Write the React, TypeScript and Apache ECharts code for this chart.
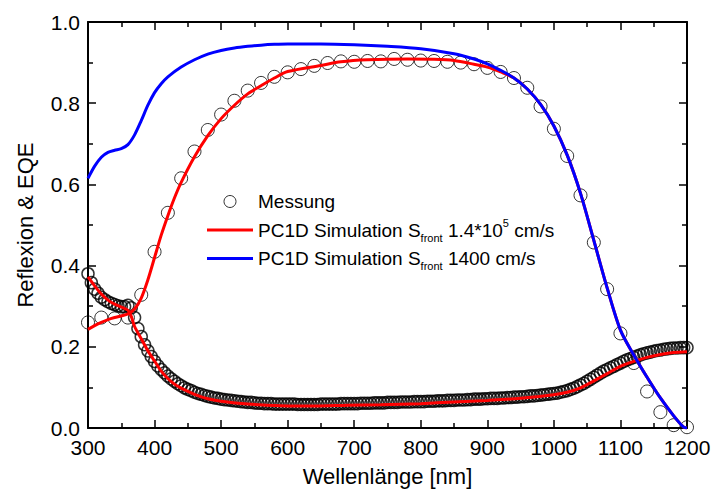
import React, { useEffect, useRef } from "react";
import * as echarts from "echarts";

// EQE measurement (circles, every 20 nm)
const eqeWl = [300, 320, 340, 360, 380, 400, 420, 440, 460, 480, 500, 520, 540, 560, 580, 600, 620, 640, 660, 680, 700, 720, 740, 760, 780, 800, 820, 840, 860, 880, 900, 920, 940, 960, 980, 1000, 1020, 1040, 1060, 1080, 1100, 1120, 1140, 1160, 1180, 1200];
const eqeMeas = [0.26, 0.272, 0.27, 0.272, 0.328, 0.434, 0.53, 0.615, 0.681, 0.734, 0.772, 0.806, 0.831, 0.85, 0.865, 0.876, 0.884, 0.892, 0.899, 0.903, 0.902, 0.904, 0.903, 0.909, 0.907, 0.905, 0.904, 0.902, 0.9, 0.896, 0.887, 0.877, 0.862, 0.838, 0.792, 0.737, 0.67, 0.573, 0.457, 0.342, 0.233, 0.16, 0.09, 0.039, 0.007, 0.002];

// Reflection measurement (dense circles, every 5 nm)
const reflWl = [
  300, 305, 310, 315, 320, 325, 330, 335, 340, 345, 350, 355, 360, 365, 370, 375, 380, 385, 390, 395,
  400, 405, 410, 415, 420, 425, 430, 435, 440, 445, 450, 455, 460, 465, 470, 475, 480, 485, 490, 495,
  500, 505, 510, 515, 520, 525, 530, 535, 540, 545, 550, 555, 560, 565, 570, 575, 580, 585, 590, 595,
  600, 605, 610, 615, 620, 625, 630, 635, 640, 645, 650, 655, 660, 665, 670, 675, 680, 685, 690, 695,
  700, 705, 710, 715, 720, 725, 730, 735, 740, 745, 750, 755, 760, 765, 770, 775, 780, 785, 790, 795,
  800, 805, 810, 815, 820, 825, 830, 835, 840, 845, 850, 855, 860, 865, 870, 875, 880, 885, 890, 895,
  900, 905, 910, 915, 920, 925, 930, 935, 940, 945, 950, 955, 960, 965, 970, 975, 980, 985, 990, 995,
  1000, 1005, 1010, 1015, 1020, 1025, 1030, 1035, 1040, 1045, 1050, 1055, 1060, 1065, 1070, 1075, 1080, 1085, 1090, 1095,
  1100, 1105, 1110, 1115, 1120, 1125, 1130, 1135, 1140, 1145, 1150, 1155, 1160, 1165, 1170, 1175, 1180, 1185, 1190, 1195,
  1200,
];
const reflMeas = [
  0.380, 0.358, 0.342, 0.332, 0.322, 0.316, 0.311, 0.307, 0.304, 0.301, 0.299, 0.299, 0.302, 0.296, 0.272, 0.245, 0.225, 0.205, 0.190, 0.176,
  0.164, 0.153, 0.144, 0.136, 0.128, 0.121, 0.115, 0.109, 0.104, 0.099, 0.095, 0.092, 0.088, 0.085, 0.083, 0.080, 0.078, 0.076, 0.074, 0.073,
  0.071, 0.070, 0.069, 0.068, 0.067, 0.066, 0.065, 0.064, 0.063, 0.063, 0.062, 0.061, 0.061, 0.060, 0.060, 0.060, 0.059, 0.059, 0.059, 0.059,
  0.059, 0.059, 0.059, 0.058, 0.058, 0.058, 0.058, 0.058, 0.058, 0.058, 0.059, 0.059, 0.059, 0.059, 0.059, 0.059, 0.060, 0.060, 0.060, 0.060,
  0.060, 0.060, 0.061, 0.061, 0.061, 0.061, 0.062, 0.062, 0.062, 0.062, 0.063, 0.063, 0.063, 0.063, 0.064, 0.064, 0.064, 0.064, 0.065, 0.065,
  0.065, 0.065, 0.066, 0.066, 0.066, 0.067, 0.067, 0.067, 0.068, 0.068, 0.068, 0.069, 0.069, 0.069, 0.070, 0.070, 0.071, 0.071, 0.071, 0.072,
  0.072, 0.073, 0.073, 0.073, 0.074, 0.074, 0.075, 0.075, 0.076, 0.076, 0.077, 0.077, 0.078, 0.079, 0.079, 0.080, 0.081, 0.082, 0.083, 0.084,
  0.085, 0.086, 0.088, 0.090, 0.092, 0.095, 0.098, 0.102, 0.106, 0.110, 0.115, 0.120, 0.125, 0.130, 0.135, 0.140, 0.144, 0.148, 0.152, 0.156,
  0.160, 0.164, 0.168, 0.171, 0.174, 0.177, 0.180, 0.183, 0.185, 0.187, 0.189, 0.191, 0.192, 0.194, 0.195, 0.196, 0.197, 0.197, 0.198, 0.198,
  0.198,
];

// PC1D simulation, S_front = 1.4e5 cm/s (red): reflection
const redRWl = [300, 310, 320, 330, 340, 350, 360, 365, 370, 380, 390, 400, 410, 420, 430, 440, 460, 480, 500, 540, 590, 640, 690, 740, 800, 850, 900, 950, 1000, 1020, 1040, 1060, 1080, 1100, 1120, 1140, 1160, 1180, 1200];
const redR = [0.372, 0.35, 0.33, 0.315, 0.305, 0.298, 0.29, 0.275, 0.25, 0.22, 0.19, 0.165, 0.14, 0.122, 0.108, 0.098, 0.083, 0.072, 0.066, 0.059, 0.055, 0.054, 0.056, 0.057, 0.06, 0.064, 0.068, 0.073, 0.082, 0.088, 0.099, 0.116, 0.134, 0.152, 0.164, 0.174, 0.181, 0.186, 0.188];

// PC1D simulation, S_front = 1.4e5 cm/s (red): EQE
const redEqeWl = [300, 310, 320, 330, 340, 350, 360, 370, 380, 390, 400, 410, 420, 430, 440, 460, 480, 500, 520, 540, 560, 580, 600, 650, 680, 720, 780, 820, 850, 880, 900, 920, 940, 960, 980, 1000, 1020, 1040, 1060, 1080, 1100, 1120, 1140, 1160, 1180, 1195, 1200];
const redEqe = [0.243, 0.252, 0.26, 0.267, 0.272, 0.276, 0.281, 0.293, 0.32, 0.365, 0.42, 0.475, 0.523, 0.567, 0.605, 0.668, 0.72, 0.762, 0.795, 0.823, 0.843, 0.862, 0.878, 0.893, 0.902, 0.907, 0.909, 0.908, 0.905, 0.896, 0.889, 0.877, 0.862, 0.835, 0.797, 0.744, 0.672, 0.578, 0.462, 0.345, 0.241, 0.18, 0.125, 0.074, 0.03, 0.002, 0];

// PC1D simulation, S_front = 1400 cm/s (blue): EQE
const blueEqeWl = [300, 310, 320, 330, 340, 350, 360, 370, 380, 390, 400, 410, 420, 440, 460, 480, 500, 520, 540, 560, 580, 600, 620, 650, 700, 750, 800, 850, 880, 900, 920, 940, 960, 980, 1000, 1020, 1040, 1060, 1080, 1100, 1120, 1140, 1160, 1180, 1195, 1200];
const blueEqe = [0.615, 0.645, 0.667, 0.679, 0.684, 0.688, 0.698, 0.722, 0.757, 0.795, 0.826, 0.848, 0.865, 0.889, 0.907, 0.921, 0.93, 0.936, 0.94, 0.943, 0.945, 0.946, 0.946, 0.946, 0.944, 0.94, 0.934, 0.922, 0.909, 0.897, 0.881, 0.862, 0.835, 0.797, 0.744, 0.672, 0.578, 0.462, 0.345, 0.241, 0.18, 0.125, 0.074, 0.03, 0.002, 0];

const NAME_MEAS = "Messung";
const NAME_RED = "PC1D Simulation Sfront 1.4*10^5 cm/s";
const NAME_BLUE = "PC1D Simulation Sfront 1400 cm/s";

const FONT = "'Liberation Sans', Arial, Helvetica, sans-serif";
const LINE_ICON = "path://M0,0L46,0L46,3L0,3Z";

const pairs = (xs: number[], ys: number[]) => xs.map((x, i) => [x, ys[i]]);

export default function App() {
  const ref = useRef<HTMLDivElement>(null);
  useEffect(() => {
    if (!ref.current) return;
    const chart = echarts.init(ref.current, undefined, { renderer: "svg" });

    const axisBase = (min: number, max: number, interval: number, showLabel: boolean, pos: string, isY: boolean) => ({
      type: "value",
      position: pos,
      min,
      max,
      interval,
      axisLine: { show: true, onZero: false, lineStyle: { color: "#000", width: 2 } },
      axisTick: { show: true, inside: true, length: 8, lineStyle: { color: "#000", width: 1.5 } },
      minorTick: { show: true, splitNumber: 2, length: 5, lineStyle: { color: "#000", width: 1.5 } },
      splitLine: { show: false },
      minorSplitLine: { show: false },
      axisLabel: {
        show: showLabel,
        color: "#000",
        fontFamily: FONT,
        fontSize: 21,
        margin: isY ? 8 : 9,
        formatter: isY ? (v: number) => v.toFixed(1) : (v: number) => String(v),
      },
    });

    chart.setOption({
      animation: false,
      backgroundColor: "#fff",
      grid: { left: 88, right: 27, top: 22, bottom: 62, containLabel: false },
      xAxis: [
        {
          ...axisBase(300, 1200, 100, true, "bottom", false),
          name: "Wellenlänge [nm]",
          nameLocation: "middle",
          nameGap: 37,
          nameTextStyle: { color: "#000", fontFamily: FONT, fontSize: 22 },
        },
        axisBase(300, 1200, 100, false, "top", false),
      ],
      yAxis: [
        {
          ...axisBase(0, 1.0, 0.2, true, "left", true),
          name: "Reflexion & EQE",
          nameLocation: "middle",
          nameGap: 52,
          nameRotate: 90,
          nameTextStyle: { color: "#000", fontFamily: FONT, fontSize: 22 },
        },
        axisBase(0, 1.0, 0.2, false, "right", true),
      ],
      legend: {
        orient: "vertical",
        left: 207,
        top: 192,
        padding: 0,
        itemGap: 6,
        itemWidth: 46,
        itemHeight: 12,
        data: [
          { name: NAME_MEAS, itemStyle: { color: "transparent", borderColor: "#000", borderWidth: 1 } },
          { name: NAME_RED, icon: LINE_ICON, itemStyle: { color: "#ff0000", borderWidth: 0 } },
          { name: NAME_BLUE, icon: LINE_ICON, itemStyle: { color: "#0000ff", borderWidth: 0 } },
        ],
        formatter: (name: string) => {
          if (name === NAME_RED) return "{t|PC1D Simulation S}{sub|front}{t| 1.4*10}{sup|5}{t| cm/s}";
          if (name === NAME_BLUE) return "{t|PC1D Simulation S}{sub|front}{t| 1400 cm/s}";
          return "{t|Messung}";
        },
        textStyle: {
          color: "#000",
          fontFamily: FONT,
          rich: {
            t: { fontSize: 19, lineHeight: 26, color: "#000", fontFamily: FONT },
            sub: { fontSize: 11, lineHeight: 10, verticalAlign: "bottom", color: "#000", fontFamily: FONT },
            sup: { fontSize: 11, lineHeight: 18, verticalAlign: "top", color: "#000", fontFamily: FONT },
          },
        },
      },
      series: [
        {
          name: NAME_MEAS,
          type: "scatter",
          symbol: "circle",
          symbolSize: 12,
          itemStyle: { color: "transparent", borderColor: "#000", borderWidth: 1.5 },
          data: pairs(reflWl, reflMeas),
          z: 1,
        },
        {
          name: NAME_MEAS,
          type: "scatter",
          symbol: "circle",
          symbolSize: 13,
          itemStyle: { color: "transparent", borderColor: "#000", borderWidth: 1 },
          data: pairs(eqeWl, eqeMeas),
          z: 1,
        },
        {
          name: NAME_RED,
          type: "line",
          symbol: "none",
          showSymbol: false,
          smooth: 0.3,
          color: "#ff0000",
          lineStyle: { color: "#ff0000", width: 3 },
          data: pairs(redRWl, redR),
          z: 2,
        },
        {
          name: NAME_RED,
          type: "line",
          symbol: "none",
          showSymbol: false,
          smooth: 0.3,
          color: "#ff0000",
          lineStyle: { color: "#ff0000", width: 3 },
          data: pairs(redEqeWl, redEqe),
          z: 2,
        },
        {
          name: NAME_BLUE,
          type: "line",
          symbol: "none",
          showSymbol: false,
          smooth: 0.3,
          color: "#0000ff",
          lineStyle: { color: "#0000ff", width: 3 },
          data: pairs(blueEqeWl, blueEqe),
          z: 3,
        },
      ],
    });
    return () => chart.dispose();
  }, []);
  return <div ref={ref} style={{ width: 714, height: 492, position: "absolute", left: 0, top: 0 }} />;
}
